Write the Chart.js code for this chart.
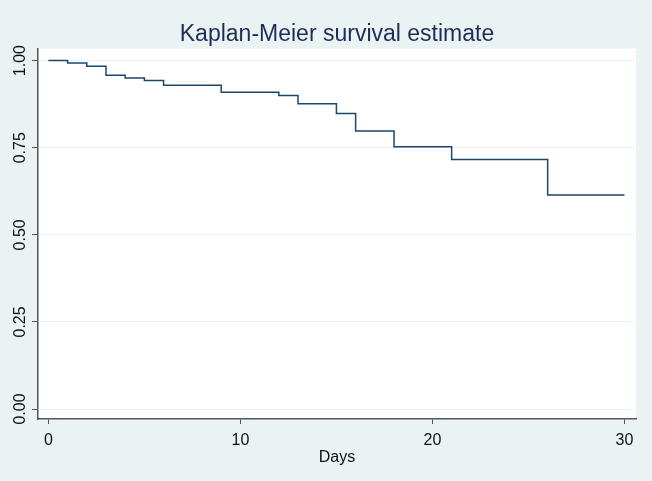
<!DOCTYPE html>
<html>
<head>
<meta charset="utf-8">
<script src="https://cdn.jsdelivr.net/npm/chart.js@4/dist/chart.umd.min.js"></script>
<style>
  html, body { margin: 0; padding: 0; background: #eaf2f3; }
  #wrap { width: 652px; height: 481px; }
</style>
</head>
<body>
<div id="wrap"><canvas id="chart" width="652" height="481"></canvas></div>
<script>
  // Kaplan-Meier steps
  const days = [0, 1, 2, 3, 4, 5, 6, 9, 12, 13, 15, 16, 18, 21, 26, 30];
  const survival = [1.0, 0.993, 0.984, 0.958, 0.95, 0.943, 0.929, 0.909, 0.9, 0.876, 0.848, 0.798, 0.753, 0.716, 0.614, 0.614];
  const xTicks = [0, 10, 20, 30];
  const yTicks = [0, 0.25, 0.5, 0.75, 1];

  const points = days.map((d, i) => ({ x: d, y: survival[i] }));

  const plotBg = {
    id: "plotBg",
    beforeDraw(chart) {
      const { ctx, chartArea: a } = chart;
      ctx.save();
      ctx.fillStyle = "#eaf2f3";
      ctx.fillRect(0, 0, chart.width, chart.height);
      ctx.fillStyle = "#ffffff";
      ctx.fillRect(a.left, a.top, a.right - a.left, a.bottom - a.top);
      ctx.restore();
    },
  };

  const font = "'Liberation Sans', Arial, Helvetica, sans-serif";

  new Chart(document.getElementById("chart"), {
    type: "line",
    data: {
      datasets: [
        {
          data: points,
          stepped: true,
          borderColor: "#1a476f",
          borderWidth: 1.5,
          pointRadius: 0,
          fill: false,
        },
      ],
    },
    options: {
      responsive: false,
      animation: false,
      layout: { padding: { left: 0, right: 16, top: 0, bottom: 0 } },
      plugins: {
        legend: { display: false },
        tooltip: { enabled: false },
        title: {
          display: true,
          fullSize: false,
          text: "Kaplan-Meier survival estimate",
          color: "#1f2d56",
          font: { family: font, size: 23, weight: "normal" },
          padding: { top: 21, bottom: 0 },
        },
      },
      scales: {
        x: {
          type: "linear",
          min: -0.54,
          max: 30.6,
          afterBuildTicks: (s) => { s.ticks = xTicks.map((v) => ({ value: v })); },
          afterFit: (s) => { s.height = 62; },
          border: { color: "#555555", width: 1.5 },
          grid: { drawOnChartArea: false, tickLength: 5, tickColor: "#555555" },
          ticks: { color: "#111111", padding: 7, font: { family: font, size: 16 } },
          title: {
            display: true,
            text: "Days",
            color: "#111111",
            font: { family: font, size: 16 },
            padding: { top: 0, bottom: 14 },
          },
        },
        y: {
          min: -0.0287,
          max: 1.0345,
          afterBuildTicks: (s) => { s.ticks = yTicks.map((v) => ({ value: v })); },
          afterFit: (s) => { s.width = 38; },
          border: { color: "#555555", width: 1.5 },
          grid: { color: "#edf3f4", lineWidth: 1, tickLength: 6, tickColor: "#555555" },
          ticks: {
            color: "#111111",
            minRotation: 90,
            maxRotation: 90,
            crossAlign: "center",
            padding: -4,
            font: { family: font, size: 16 },
            callback: (v) => Number(v).toFixed(2),
          },
        },
      },
    },
    plugins: [plotBg],
  });
</script>
</body>
</html>
